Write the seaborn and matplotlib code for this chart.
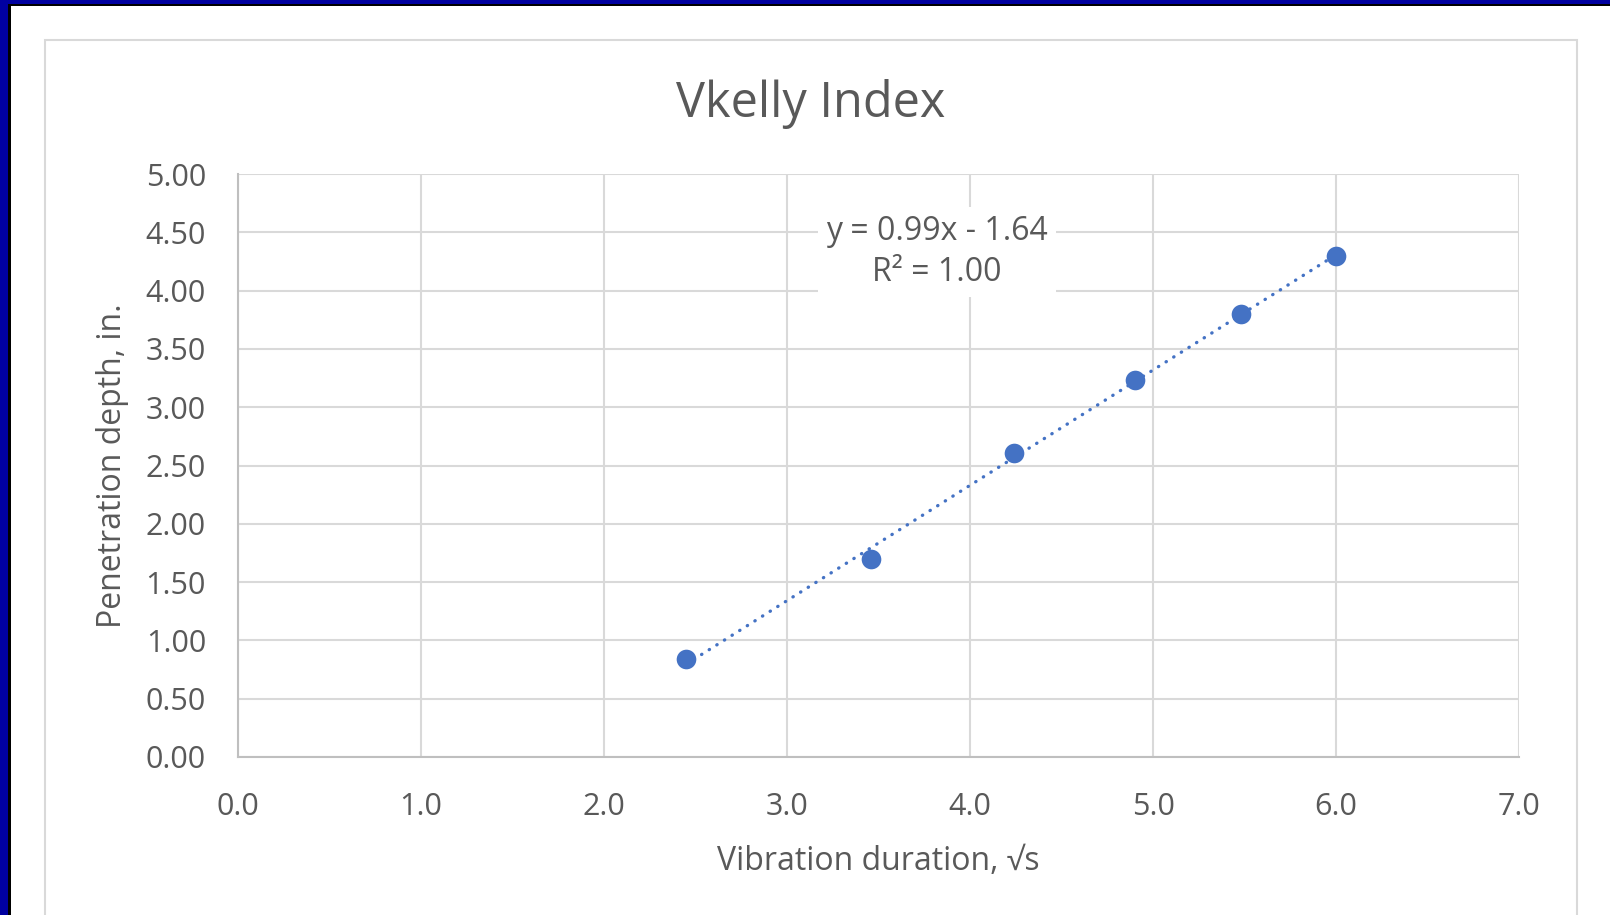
import numpy as np
import pandas as pd
import seaborn as sns
import matplotlib
matplotlib.use("Agg")
import matplotlib.pyplot as plt
from matplotlib.patches import Rectangle

# ---- data ----
vibration_sqrt_s = [2.45, 3.46, 4.24, 4.90, 5.48, 6.00]
penetration_in = [0.84, 1.70, 2.61, 3.23, 3.80, 4.30]
x_ticks = [0, 1, 2, 3, 4, 5, 6, 7]
y_ticks = [0.0, 0.5, 1.0, 1.5, 2.0, 2.5, 3.0, 3.5, 4.0, 4.5, 5.0]
title = "Vkelly Index"
x_label = "Vibration duration, \u221as"
y_label = "Penetration depth, in."
trend_label = ["y = 0.99x - 1.64", "R\u00b2 = 1.00"]

df = pd.DataFrame({"x": vibration_sqrt_s, "y": penetration_in})

sns.set_theme(style="white")
plt.rcParams["font.family"] = ["Open Sans", "DejaVu Sans"]

TXT = "#595959"
BLUE = "#4472C4"
GRID = "#D9D9D9"

W, H = 1610, 915
fig = plt.figure(figsize=(W / 100, H / 100), dpi=100)
fig.patch.set_facecolor("white")

# outer blue border (top and left) with black inner line
fig.patches.append(Rectangle((0, (H - 4) / H), 1, 4 / H, transform=fig.transFigure,
                             facecolor="#0000A0", edgecolor="none", zorder=0))
fig.patches.append(Rectangle((0, (H - 6) / H), 1, 2 / H, transform=fig.transFigure,
                             facecolor="black", edgecolor="none", zorder=0))
fig.patches.append(Rectangle((0, 0), 8 / W, 1, transform=fig.transFigure,
                             facecolor="#0000A0", edgecolor="none", zorder=0))
fig.patches.append(Rectangle((8 / W, 0), 3 / W, (H - 4) / H, transform=fig.transFigure,
                             facecolor="black", edgecolor="none", zorder=0))
# chart area frame
fig.patches.append(Rectangle((45 / W, -0.05), (1577 - 45) / W, (H - 40) / H + 0.05,
                             transform=fig.transFigure, facecolor="none",
                             edgecolor="#D9D9D9", lw=1.5, zorder=0))

ax = fig.add_axes([238 / W, (H - 757) / H, (1519 - 238) / W, (757 - 174) / H])
ax.set_facecolor("none")

sns.regplot(data=df, x="x", y="y", ax=ax, ci=None, scatter=False, truncate=True,
            line_kws=dict(color=BLUE, lw=2.4, ls=(0, (0.1, 2.6)),
                          dash_capstyle="round", zorder=3))
sns.scatterplot(data=df, x="x", y="y", ax=ax, color=BLUE, s=200, edgecolor=BLUE,
                linewidth=0, zorder=4, legend=False)

ax.text(3.82, 4.33, "\n".join(trend_label), ha="center", va="center", fontsize=23,
        color=TXT, linespacing=1.3, zorder=5,
        bbox=dict(boxstyle="square,pad=0.25", facecolor="white", edgecolor="none"))

ax.set_xlim(0, 7)
ax.set_ylim(0, 5)
ax.set_xticks(x_ticks)
ax.set_xticklabels([f"{v:.1f}" for v in x_ticks])
ax.set_yticks(y_ticks)
ax.set_yticklabels([f"{v:.2f}" for v in y_ticks])
ax.grid(True, color=GRID, lw=1.5, zorder=0)
ax.set_axisbelow(True)
for s in ["top", "right"]:
    ax.spines[s].set_visible(False)
for s in ["left", "bottom"]:
    ax.spines[s].set_color("#BFBFBF")
    ax.spines[s].set_linewidth(1.5)
ax.tick_params(axis="both", length=0, labelsize=22, labelcolor=TXT)
ax.tick_params(axis="y", pad=23)
ax.tick_params(axis="x", pad=25)

ax.set_xlabel(x_label, fontsize=23, color=TXT, labelpad=17)
ax.set_ylabel(y_label, fontsize=23, color=TXT, labelpad=12)
fig.text(811 / W, 1 - 104 / H, title, ha="center", va="center", fontsize=35, color=TXT)

fig.savefig("out.png", dpi=100)
